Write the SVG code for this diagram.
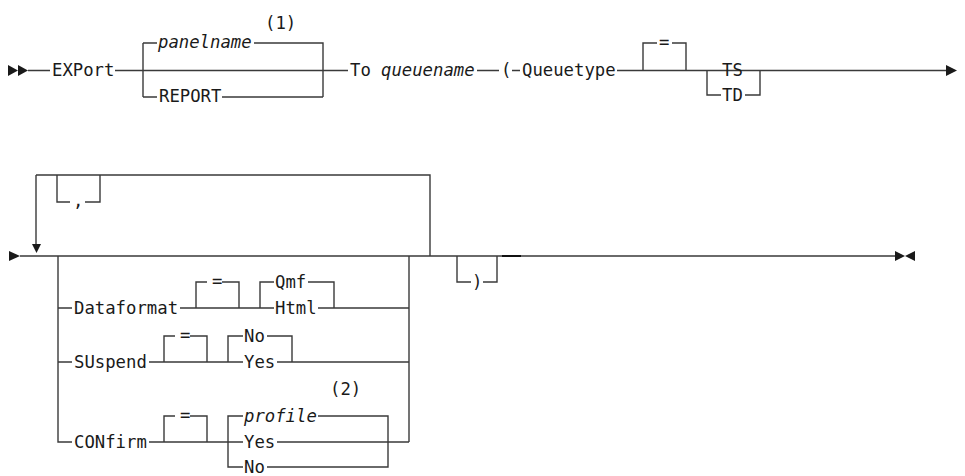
<svg xmlns="http://www.w3.org/2000/svg" width="965" height="476" viewBox="0 0 965 476">
<style>
text{font-family:"DejaVu Sans Mono","Liberation Mono",monospace;font-size:17.3px;fill:#1a1a1a}
.i{font-style:italic}
.l{fill:none;stroke:#3a3a3a;stroke-width:1.4}
.a{fill:#1a1a1a}
</style>
<rect width="965" height="476" fill="#fff"/>
<g id="connectors">
<!-- row 1 -->
<path class="l" d="M28,70.5H50 M115,70.5H348 M143,43V97 M143,43H157 M254,43H323V97 M143,97H157 M222,97H323 M477,70.5H499 M512,70.5H520 M617,70.5H946 M643,70.5V43H657 M672,43H686V70.5 M707,70.5V95H721 M745,95H760V70.5 M707,70.5H721 M745,70.5H760"/>
<!-- row 2 -->
<path class="l" d="M20,256H895 M36,175V245 M36,175H430V256 M57,175V202H70 M85,202H100V175"/>
<path class="l" d="M58,256V442H72 M409,256V442 M149,442H243 M277,442H409"/>
<path class="l" d="M58,308H72 M180,308H274 M318,308H409 M196,308V282H207 M222,282H239V308 M260,308V282H274 M308,282H334V308"/>
<path class="l" d="M58,362H72 M149,362H243 M277,362H409 M164,362V336H175 M190,336H207V362 M228,362V336H243 M267,336H292V362"/>
<path class="l" d="M164,442V416H175 M190,416H207V442 M228,442V416H243 M228,442V467H243 M318,416H388V467H267"/>
<path class="l" d="M457,256V282H471 M483,282H497V256"/>
<path d="M502,256H521" stroke="#111" stroke-width="2" fill="none"/>
</g>
<g id="start1"><polygon class="a" points="8,65 8,76 18,70.5"/><polygon class="a" points="18,65 18,76 28,70.5"/></g>
<g id="kw-export"><text x="52" y="76">EXPort</text></g>
<g id="note1"><text x="265" y="29">(1)</text></g>
<g id="var-panelname"><text class="i" x="158" y="48">panelname</text></g>
<g id="kw-report"><text x="159" y="102">REPORT</text></g>
<g id="kw-to"><text x="350" y="76">To</text></g>
<g id="var-queuename"><text class="i" x="381" y="76">queuename</text></g>
<g id="lparen"><text x="501" y="76">(</text></g>
<g id="kw-queuetype"><text x="522" y="76">Queuetype</text></g>
<g id="eq1"><text x="659" y="48">=</text></g>
<g id="kw-ts"><text x="722" y="76">TS</text></g>
<g id="kw-td"><text x="722" y="101">TD</text></g>
<g id="cont1"><polygon class="a" points="946,65 946,76 957,70.5"/></g>

<g id="start2"><polygon class="a" points="9,251 9,261 20,256"/></g>
<g id="repeat-arrow"><polygon class="a" points="32,244 41,244 36.5,253"/></g>
<g id="comma"><text x="73" y="207">,</text></g>
<g id="kw-dataformat"><text x="74" y="314">Dataformat</text></g>
<g id="eq2"><text x="212" y="287">=</text></g>
<g id="kw-qmf"><text x="275" y="288">Qmf</text></g>
<g id="kw-html"><text x="275" y="314">Html</text></g>
<g id="kw-suspend"><text x="74" y="368">SUspend</text></g>
<g id="eq3"><text x="180" y="341">=</text></g>
<g id="kw-no1"><text x="244" y="342">No</text></g>
<g id="kw-yes1"><text x="244" y="368">Yes</text></g>
<g id="note2"><text x="330" y="395">(2)</text></g>
<g id="kw-confirm"><text x="74" y="448">CONfirm</text></g>
<g id="eq4"><text x="180" y="421">=</text></g>
<g id="var-profile"><text class="i" x="244" y="422">profile</text></g>
<g id="kw-yes2"><text x="244" y="448">Yes</text></g>
<g id="kw-no2"><text x="244" y="473">No</text></g>
<g id="rparen"><text x="472" y="288">)</text></g>
<g id="end"><polygon class="a" points="895,251 895,261 905,256"/><polygon class="a" points="915,251 915,261 905,256"/></g>
</svg>
